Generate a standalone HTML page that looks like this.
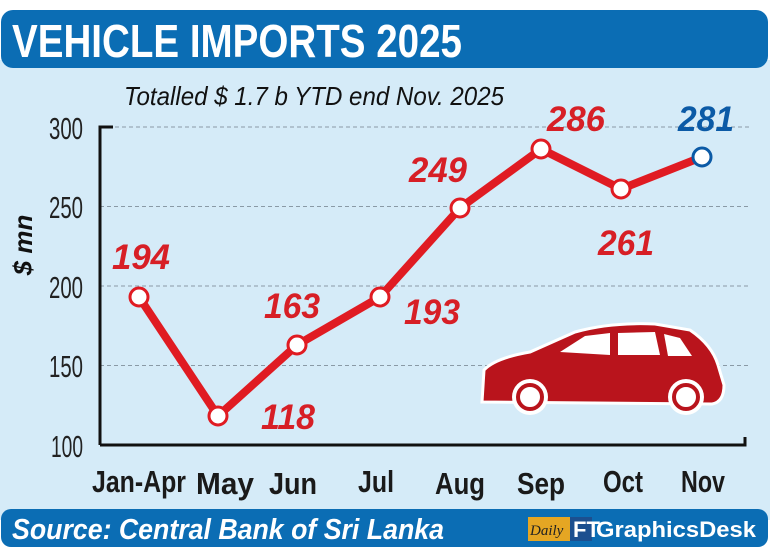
<!DOCTYPE html>
<html><head><meta charset="utf-8"><style>
body{margin:0;width:770px;height:555px;background:#fff;overflow:hidden;font-family:"Liberation Sans Narrow","Liberation Sans",sans-serif}
</style></head><body>
<svg width="770" height="555" viewBox="0 0 770 555" xmlns="http://www.w3.org/2000/svg">
<rect x="0" y="60" width="770" height="460" fill="#d5ebf8"/>
<rect x="1" y="10" width="767" height="58" rx="12" fill="#0b6db4"/>
<text x="12" y="57" font-size="46" font-weight="bold" fill="#fff" textLength="450" lengthAdjust="spacingAndGlyphs">VEHICLE IMPORTS 2025</text>
<text x="124" y="105" font-size="26" font-style="italic" fill="#111" textLength="380" lengthAdjust="spacingAndGlyphs">Totalled $ 1.7 b YTD end Nov. 2025</text>
<g stroke="#8a9aa6" stroke-width="1" stroke-dasharray="4,3">
<line x1="115" y1="127" x2="750" y2="127"/><line x1="100" y1="206.5" x2="750" y2="206.5"/>
<line x1="100" y1="286" x2="750" y2="286"/><line x1="100" y1="365.5" x2="750" y2="365.5"/>
</g>
<path d="M100,445 V127 H113" fill="none" stroke="#111" stroke-width="3"/>
<path d="M100,445 H745 V437" fill="none" stroke="#111" stroke-width="3"/>
<g font-size="31" fill="#222" text-anchor="end">
<text x="83" y="139" textLength="34" lengthAdjust="spacingAndGlyphs">300</text>
<text x="83" y="218" textLength="34" lengthAdjust="spacingAndGlyphs">250</text>
<text x="83" y="298" textLength="34" lengthAdjust="spacingAndGlyphs">200</text>
<text x="83" y="377" textLength="34" lengthAdjust="spacingAndGlyphs">150</text>
<text x="83" y="457" textLength="32" lengthAdjust="spacingAndGlyphs">100</text>
</g>
<text transform="translate(32,245) rotate(-90)" font-size="26" font-weight="bold" font-style="italic" fill="#111" text-anchor="middle">$ mn</text>
<g font-size="31" font-weight="bold" fill="#1a1a1a" text-anchor="middle">
<text x="139" y="492" textLength="94" lengthAdjust="spacingAndGlyphs">Jan-Apr</text>
<text x="225" y="494" textLength="58" lengthAdjust="spacingAndGlyphs">May</text>
<text x="293" y="494" textLength="48" lengthAdjust="spacingAndGlyphs">Jun</text>
<text x="376" y="492" textLength="36" lengthAdjust="spacingAndGlyphs">Jul</text>
<text x="460" y="494" textLength="50" lengthAdjust="spacingAndGlyphs">Aug</text>
<text x="541" y="494" textLength="48" lengthAdjust="spacingAndGlyphs">Sep</text>
<text x="623" y="492" textLength="40" lengthAdjust="spacingAndGlyphs">Oct</text>
<text x="703" y="492" textLength="44" lengthAdjust="spacingAndGlyphs">Nov</text>
</g>
<g fill="#b9141c" stroke="#fff" stroke-width="3">
<path d="M482,402 L484,370 Q495,358 530,352 L575,332 Q610,322 655,324 L690,330 Q712,345 718,365 L724,385 Q724,402 712,404 Z"/>
</g>
<g fill="#fff">
<path d="M560,352 L585,336 L610,333 L610,355 Z"/>
<path d="M618,333 L655,332 L660,355 L618,355 Z"/>
<path d="M664,334 L680,338 L692,356 L668,356 Z"/>
</g>
<circle cx="530" cy="397" r="18" fill="#fff"/><circle cx="530" cy="397" r="12" fill="#fff" stroke="#b9141c" stroke-width="4"/>
<circle cx="686" cy="397" r="18" fill="#fff"/><circle cx="686" cy="397" r="12" fill="#fff" stroke="#b9141c" stroke-width="4"/>
<polyline points="139,297 218,416 297,345 380,297 460,208 541,149 621,189 702,157" fill="none" stroke="#e01b22" stroke-width="8" stroke-linejoin="round"/>
<g fill="#fff" stroke="#e01b22" stroke-width="3">
<circle cx="139" cy="297" r="9"/><circle cx="218" cy="416" r="9"/><circle cx="297" cy="345" r="9"/>
<circle cx="380" cy="297" r="9"/><circle cx="460" cy="208" r="9"/><circle cx="541" cy="149" r="9"/>
<circle cx="621" cy="189" r="9"/>
</g>
<circle cx="702" cy="157" r="9" fill="#fff" stroke="#0b5aa6" stroke-width="3"/>
<g font-size="35" font-weight="bold" font-style="italic" fill="#d71f26" text-anchor="middle">
<text x="141" y="269" textLength="58" lengthAdjust="spacingAndGlyphs">194</text>
<text x="288" y="429" textLength="54" lengthAdjust="spacingAndGlyphs">118</text>
<text x="292" y="318" textLength="56" lengthAdjust="spacingAndGlyphs">163</text>
<text x="432" y="324" textLength="56" lengthAdjust="spacingAndGlyphs">193</text>
<text x="438" y="182" textLength="58" lengthAdjust="spacingAndGlyphs">249</text>
<text x="576" y="131" textLength="58" lengthAdjust="spacingAndGlyphs">286</text>
<text x="626" y="255" textLength="56" lengthAdjust="spacingAndGlyphs">261</text>
</g>
<text x="706" y="131" font-size="35" font-weight="bold" font-style="italic" fill="#0b5aa6" text-anchor="middle" textLength="56" lengthAdjust="spacingAndGlyphs">281</text>
<rect x="1" y="509" width="767" height="38" rx="10" fill="#0b6db4"/>
<text x="12" y="539" font-size="29" font-weight="bold" font-style="italic" fill="#fff" textLength="432" lengthAdjust="spacingAndGlyphs">Source: Central Bank of Sri Lanka</text>
<rect x="528" y="517" width="42" height="24" fill="#e5a623"/>
<text x="530" y="535" font-size="15" font-style="italic" fill="#222" font-family="Liberation Serif,serif">Daily</text>
<rect x="570" y="517" width="22" height="24" fill="#1c4f8f"/>
<text x="573" y="537" font-size="22" font-weight="bold" fill="#fff">FT</text>
<text x="596" y="537" font-size="22" font-weight="bold" fill="#fff" textLength="160" lengthAdjust="spacingAndGlyphs">GraphicsDesk</text>
</svg>
</body></html>
